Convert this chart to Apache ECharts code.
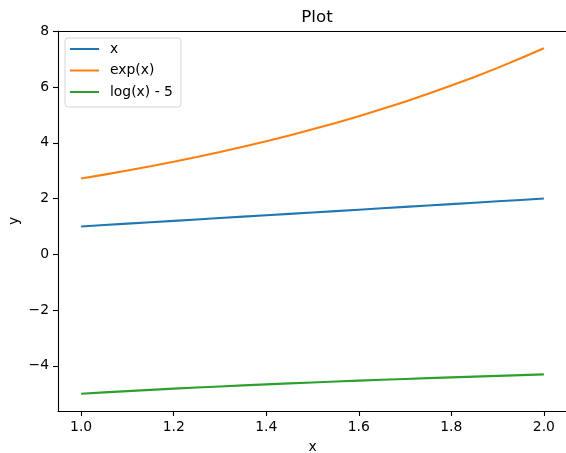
<!DOCTYPE html>
<html>
<head>
<meta charset="utf-8">
<script src="https://cdn.jsdelivr.net/npm/echarts@6/dist/echarts.min.js"></script>
<style>html,body{margin:0;padding:0;background:#fff}#c{width:566px;height:453px}</style>
</head>
<body>
<div id="c"></div>
<script>
const xs = [1.00,1.05,1.10,1.15,1.20,1.25,1.30,1.35,1.40,1.45,1.50,1.55,1.60,1.65,1.70,1.75,1.80,1.85,1.90,1.95,2.00];
const yLinear = [1.00,1.05,1.10,1.15,1.20,1.25,1.30,1.35,1.40,1.45,1.50,1.55,1.60,1.65,1.70,1.75,1.80,1.85,1.90,1.95,2.00];
const yExp = [2.718,2.858,3.004,3.158,3.320,3.490,3.669,3.857,4.055,4.263,4.482,4.711,4.953,5.207,5.474,5.755,6.050,6.360,6.686,7.029,7.389];
const yLog = [-5.000,-4.951,-4.905,-4.860,-4.818,-4.777,-4.738,-4.700,-4.664,-4.628,-4.595,-4.562,-4.530,-4.499,-4.469,-4.440,-4.412,-4.385,-4.358,-4.332,-4.307];
const xTicks = [1.0,1.2,1.4,1.6,1.8,2.0];
const yTicks = [-4,-2,0,2,4,6,8];
const seriesNames = ['x','exp(x)','log(x) - 5'];
const colors = ['#1f77b4','#ff7f0e','#2ca02c'];

const F = 'DejaVu Sans';
const pairs = ys => xs.map((x,i)=>[x, ys[i]]);
const chart = echarts.init(document.getElementById('c'), null, {renderer:'canvas'});
const axisCommon = {
  axisLine:{show:true, onZero:false, lineStyle:{color:'#000', width:1.1}},
  axisTick:{show:true, length:5, lineStyle:{color:'#000', width:1.1}},
  splitLine:{show:false},
  nameMoveOverlap:false,
  nameTextStyle:{color:'#000', fontFamily:F, fontSize:13.9}
};
chart.setOption({
  animation:false,
  color:colors,
  title:{text:'Plot', left:312, textAlign:'center', top:4,
    textStyle:{fontFamily:F, fontSize:16.7, fontWeight:'normal', color:'#000'}},
  grid:{left:58, top:31, right:-1, bottom:42, show:false, containLabel:false, outerBoundsMode:'none'},
  legend:{
    orient:'vertical', left:65, top:38,
    padding:[2,8,6,5], itemGap:3.5, itemWidth:29, itemHeight:2,
    backgroundColor:'rgba(255,255,255,0.8)', borderColor:'#d6d6d6', borderWidth:1, borderRadius:3,
    icon:'rect',
    textStyle:{fontFamily:F, fontSize:13.9, color:'#000', lineHeight:18, padding:[0,0,0,6]},
    data:seriesNames
  },
  xAxis:[Object.assign({}, axisCommon, {
    type:'value', min:0.95, max:2.05, name:'x', nameLocation:'middle', nameGap:29,
    axisTick:Object.assign({}, axisCommon.axisTick, {customValues:xTicks}),
    axisLabel:{customValues:xTicks, margin:9, color:'#000', fontFamily:F, fontSize:13.9, formatter:v=>v.toFixed(1)}
  }), {
    type:'value', position:'top', min:0.95, max:2.05,
    axisLine:{show:true, onZero:false, lineStyle:{color:'#000', width:1.1}},
    axisTick:{show:false}, axisLabel:{show:false}, splitLine:{show:false}
  }],
  yAxis:Object.assign({}, axisCommon, {
    type:'value', min:-5.619, max:8.008, name:'y', nameLocation:'middle', nameGap:37,
    axisTick:Object.assign({}, axisCommon.axisTick, {customValues:yTicks}),
    axisLabel:{customValues:yTicks, margin:9, color:'#000', fontFamily:F, fontSize:13.9, formatter:v=>v<0?'\u2212'+Math.abs(v):String(v)}
  }),
  series:[
    {name:seriesNames[0], type:'line', xAxisIndex:0, data:pairs(yLinear), showSymbol:false, lineStyle:{width:2.1}},
    {name:seriesNames[1], type:'line', xAxisIndex:0, data:pairs(yExp), showSymbol:false, lineStyle:{width:2.1}},
    {name:seriesNames[2], type:'line', xAxisIndex:0, data:pairs(yLog), showSymbol:false, lineStyle:{width:2.1}}
  ]
});
</script>
</body>
</html>
